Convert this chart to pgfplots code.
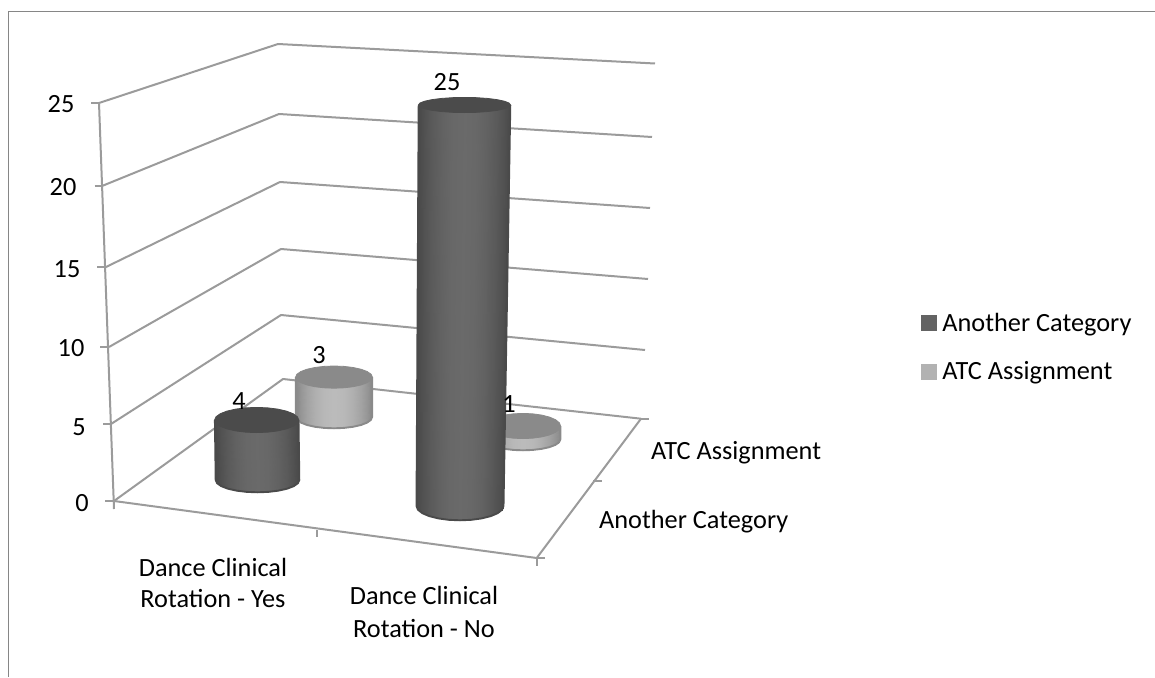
\documentclass[border=0pt]{standalone}
\usepackage{fontspec}
\setmainfont{Carlito}
\usepackage{pgfplots}
\usepackage{pgfplotstable}
\pgfplotsset{compat=1.18}
\definecolor{gridc}{HTML}{9B9B9B}
\definecolor{framec}{HTML}{868686}
\definecolor{darkT}{HTML}{4B4B4B}
\definecolor{lightT}{HTML}{8A8A8A}
\definecolor{darkE}{HTML}{4A4A4A}
\definecolor{lightE}{HTML}{8A8A8A}
\definecolor{legD}{HTML}{636363}
\definecolor{legL}{HTML}{B2B2B2}
% unit outline of a cylinder's side: u, v on the unit circle, t=0 base, t=1 top
\pgfplotstableread{
u v t
-1 0 0
-0.966 0.259 0
-0.866 0.5 0
-0.707 0.707 0
-0.5 0.866 0
-0.259 0.966 0
0 1 0
0.259 0.966 0
0.5 0.866 0
0.707 0.707 0
0.866 0.5 0
0.966 0.259 0
1 0 0
-1 0 1
-0.966 0.259 1
-0.866 0.5 1
-0.707 0.707 1
-0.5 0.866 1
-0.259 0.966 1
0 1 1
0.259 0.966 1
0.5 0.866 1
0.707 0.707 1
0.866 0.5 1
0.966 0.259 1
1 0 1
}\sidetable
\pgfplotstableread{
u v t
-1 0 1
-1 0 0
-0.966 0.259 0
-0.866 0.5 0
-0.707 0.707 0
-0.5 0.866 0
-0.259 0.966 0
0 1 0
0.259 0.966 0
0.5 0.866 0
0.707 0.707 0
0.866 0.5 0
0.966 0.259 0
1 0 0
1 0 1
}\edgetable
\pgfplotstableread{
u v
-1 0
-0.966 0.259
-0.866 0.5
-0.707 0.707
-0.5 0.866
-0.259 0.966
0 1
0.259 0.966
0.5 0.866
0.707 0.707
0.866 0.5
0.966 0.259
1 0
0.966 -0.259
0.866 -0.5
0.707 -0.707
0.5 -0.866
0.259 -0.966
0 -1
-0.259 -0.966
-0.5 -0.866
-0.707 -0.707
-0.866 -0.5
-0.966 -0.259
-1 0
}\toptable
% #1 name, #2 edge gray, #3 middle gray, #4 top colour, #5 edge colour
% then: ##1 value, ##2 px per unit, ##3 base y, ##4 base cx, ##5 base rx, ##6 base ry, ##7 top cx, ##8 top rx, ##9 top ry
\newcommand{\makecyl}[5]{%
 \expandafter\newcommand\csname cyl#1\endcsname[9]{%
 \addplot[forget plot, surf, shader=interp, mesh/cols=13,
     point meta={#2+(#3-#2)*(1-\thisrow{u}*\thisrow{u})}]
   table[x expr={(1-\thisrow{t})*(##4+\thisrow{u}*(##5-1.2))+\thisrow{t}*(##7+\thisrow{u}*(##8-1.2))},
         y expr={(1-\thisrow{t})*(##3+\thisrow{v}*(##6-1.2))+\thisrow{t}*(##3-##1*##2+0.5*\thisrow{v}*##9)}] {\sidetable};
 \addplot[forget plot, #5, line width=1.9pt, line join=round]
   table[x expr={(1-\thisrow{t})*(##4+\thisrow{u}*(##5-0.7))+\thisrow{t}*(##7+\thisrow{u}*(##8-0.7))},
         y expr={(1-\thisrow{t})*(##3+\thisrow{v}*(##6-0.7))+\thisrow{t}*(##3-##1*##2+\thisrow{v}*##9)}] {\edgetable};
 \addplot[forget plot, draw=#4, line width=0.8pt, fill=#4]
   table[x expr={##7+\thisrow{u}*(##8-0.4)}, y expr={##3-##1*##2+\thisrow{v}*(##9-0.4)}] {\toptable};
 }}
\makecyl{L}{0.54}{0.735}{lightT}{lightE}
\makecyl{D}{0.29}{0.415}{darkT}{darkE}
\newcommand{\grid}[1]{\addplot[forget plot, gridc, line width=2pt, line join=round] coordinates {#1};}
\begin{document}
\begin{tikzpicture}
\begin{axis}[
  scale only axis, width=1155pt, height=677pt,
  xmin=0, xmax=1155, ymin=0, ymax=677, y dir=reverse,
  axis line style={draw=none}, ticks=none, clip=true,
  colormap={gr}{gray(0cm)=(0); gray(1cm)=(1)}, colormap name=gr,
  point meta min=0, point meta max=1,
  legend cell align=left,
  legend style={at={(axis cs:921,313)}, anchor=north west, draw=none, fill=none,
    inner sep=0pt, outer sep=0pt, row sep=29pt, font=\fontsize{26.3}{30}\selectfont,
    nodes={inner sep=0pt, outer sep=0pt}},
]
% chart frame
\addplot[forget plot, framec, line width=1.5pt] coordinates {(8.7,677)(8.7,11.5)(1155,11.5)};
% walls
\grid{(99,103)(278,44)(655,63.5)}
\grid{(102,186)(279,114)(652,137)}
\grid{(106,267)(280,182)(650,208)}
\grid{(109,347)(281,249)(648,279)}
\grid{(111,424)(281,315)(645,350)}
\grid{(114,501)(283,379)(641,418.7)}
% value axis and its ticks
\grid{(99,103)(114,509)}
\grid{(91,103)(99,103)}
\grid{(94.5,186)(102,186)}
\grid{(97,267)(106,267)}
\grid{(100,347)(109,347)}
\grid{(103,424)(111,424)}
\grid{(105,501)(114,501)}
% floor
\grid{(114,501)(536.7,558)(641,418.7)}
\grid{(317,530)(317,537)}
\grid{(536.7,558)(536.7,566)}
\grid{(536.7,558)(545,558)}
\grid{(593,481)(602,481)}
\grid{(641,418.7)(649,418.7)}
% cylinders, back to front
\cylL{3}{13.3}{417}{334}{38.8}{12}{334}{38.8}{11.5}
\cylL{1}{13.5}{439.5}{523}{38}{11.5}{523}{38}{13}
\cylD{4}{15}{480}{257.5}{42.5}{13}{256.7}{42.5}{13}
\cylD{25}{16.04}{506}{460}{44.2}{15}{464.5}{46.5}{8}
% legend
\addlegendimage{legend image code/.code={\fill[legD] (0pt,-7.5pt) rectangle (15pt,7.5pt); \path (21pt,0pt);}}
\addlegendentry{Another Category}
\addlegendimage{legend image code/.code={\fill[legL] (0pt,-7.5pt) rectangle (15pt,7.5pt); \path (21pt,0pt);}}
\addlegendentry{ATC Assignment}
% text
\begin{scope}[every node/.style={font=\fontsize{26.3}{30}\selectfont, inner sep=0pt, text=black}]
\node at (axis cs:61,104) {25};
\node at (axis cs:63,187) {20};
\node at (axis cs:67,269) {15};
\node at (axis cs:71,348) {10};
\node at (axis cs:79,427) {5};
\node at (axis cs:82,503) {0};
\node at (axis cs:239,401) {4};
\node at (axis cs:319,355) {3};
\node at (axis cs:447,82) {25};
\node at (axis cs:509,404) {1};
\node at (axis cs:213,567) {Dance Clinical};
\node at (axis cs:213,598) {Rotation - Yes};
\node at (axis cs:424,595) {Dance Clinical};
\node at (axis cs:424,628) {Rotation - No};
\node[anchor=west] at (axis cs:651,453) {ATC Assignment};
\node[anchor=west] at (axis cs:599,522) {Another Category};
\end{scope}
\end{axis}
\end{tikzpicture}
\end{document}
